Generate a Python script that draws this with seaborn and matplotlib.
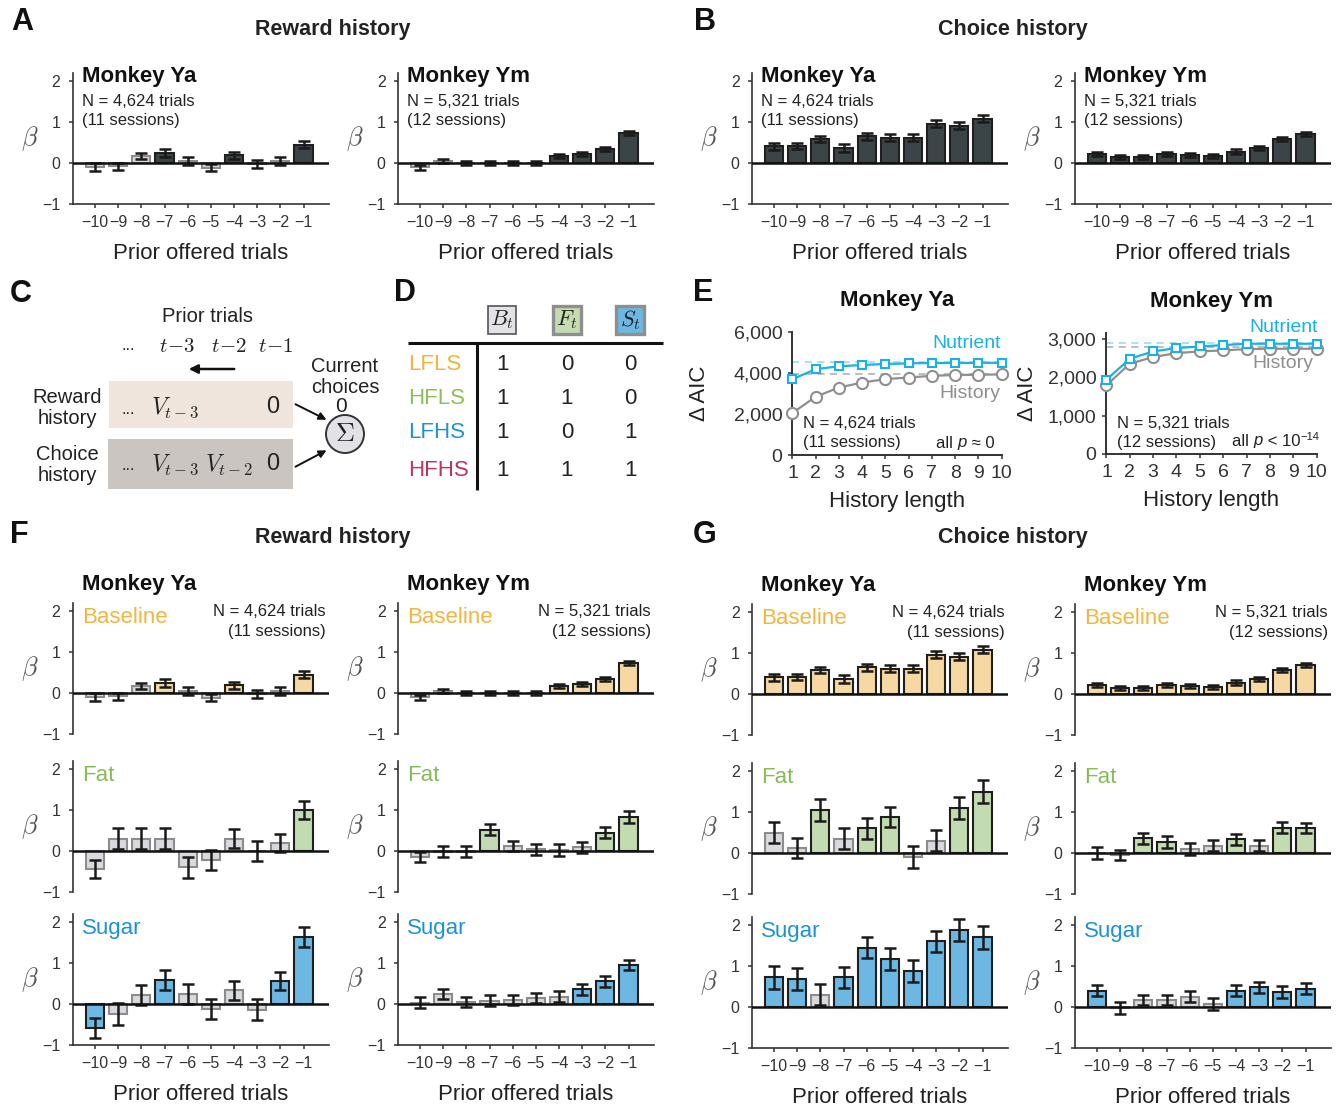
import numpy as np
import pandas as pd
import matplotlib
matplotlib.use("Agg")
import matplotlib.pyplot as plt
import seaborn as sns
from matplotlib.patches import Rectangle, Circle

# ---------------- data ----------------
lags = ["−10", "−9", "−8", "−7", "−6", "−5", "−4", "−3", "−2", "−1"]

# A / F-baseline: reward history
rew_ya_beta = [-0.10, -0.08, 0.17, 0.24, 0.04, -0.11, 0.19, -0.02, 0.05, 0.45]
rew_ya_sem = [0.09, 0.08, 0.08, 0.09, 0.10, 0.09, 0.09, 0.09, 0.09, 0.08]
rew_ya_sig = [0, 0, 0, 1, 0, 0, 1, 0, 0, 1]
rew_ym_beta = [-0.10, 0.04, -0.01, 0.00, -0.01, -0.01, 0.17, 0.21, 0.34, 0.74]
rew_ym_sem = [0.06, 0.05, 0.05, 0.05, 0.05, 0.05, 0.05, 0.05, 0.05, 0.05]
rew_ym_sig = [0, 0, 0, 0, 0, 0, 1, 1, 1, 1]

# B / G-baseline: choice history
cho_ya_beta = [0.41, 0.41, 0.59, 0.37, 0.65, 0.62, 0.62, 0.96, 0.91, 1.08]
cho_ya_sem = [0.09, 0.08, 0.08, 0.09, 0.08, 0.08, 0.08, 0.08, 0.08, 0.08]
cho_ya_sig = [1, 1, 1, 1, 1, 1, 1, 1, 1, 1]
cho_ym_beta = [0.22, 0.14, 0.15, 0.23, 0.20, 0.16, 0.28, 0.36, 0.59, 0.71]
cho_ym_sem = [0.05, 0.05, 0.05, 0.05, 0.05, 0.05, 0.05, 0.05, 0.05, 0.05]
cho_ym_sig = [1, 1, 1, 1, 1, 1, 1, 1, 1, 1]

# F: reward history, fat / sugar
rfat_ya_beta = [-0.44, 0.30, 0.30, 0.30, -0.40, -0.22, 0.30, 0.00, 0.20, 1.00]
rfat_ya_sem = [0.23, 0.26, 0.25, 0.25, 0.25, 0.25, 0.23, 0.25, 0.22, 0.23]
rfat_ya_sig = [0, 0, 0, 0, 0, 0, 0, 0, 0, 1]
rfat_ym_beta = [-0.15, -0.02, -0.02, 0.52, 0.13, 0.04, 0.03, 0.09, 0.45, 0.83]
rfat_ym_sem = [0.12, 0.13, 0.13, 0.13, 0.12, 0.14, 0.14, 0.14, 0.13, 0.14]
rfat_ym_sig = [0, 0, 0, 1, 0, 0, 0, 0, 1, 1]
rsug_ya_beta = [-0.58, -0.25, 0.22, 0.58, 0.25, -0.12, 0.33, -0.14, 0.56, 1.63]
rsug_ya_sem = [0.24, 0.27, 0.24, 0.24, 0.25, 0.24, 0.23, 0.25, 0.23, 0.24]
rsug_ya_sig = [1, 0, 0, 1, 0, 0, 0, 0, 1, 1]
rsug_ym_beta = [0.03, 0.24, 0.05, 0.08, 0.10, 0.15, 0.18, 0.36, 0.55, 0.96]
rsug_ym_sem = [0.13, 0.13, 0.13, 0.13, 0.13, 0.13, 0.13, 0.14, 0.14, 0.12]
rsug_ym_sig = [0, 0, 0, 0, 0, 0, 0, 1, 1, 1]

# G: choice history, fat / sugar
cfat_ya_beta = [0.50, 0.12, 1.05, 0.35, 0.60, 0.88, -0.10, 0.30, 1.10, 1.50]
cfat_ya_sem = [0.25, 0.25, 0.27, 0.25, 0.25, 0.25, 0.26, 0.25, 0.27, 0.27]
cfat_ya_sig = [0, 0, 1, 0, 1, 1, 0, 0, 1, 1]
cfat_ym_beta = [0.00, -0.05, 0.36, 0.27, 0.10, 0.18, 0.33, 0.18, 0.62, 0.61]
cfat_ym_sem = [0.15, 0.13, 0.13, 0.14, 0.14, 0.14, 0.13, 0.14, 0.14, 0.13]
cfat_ym_sig = [0, 0, 1, 1, 0, 0, 1, 0, 1, 1]
csug_ya_beta = [0.72, 0.68, 0.30, 0.72, 1.45, 1.18, 0.88, 1.60, 1.88, 1.70]
csug_ya_sem = [0.27, 0.27, 0.25, 0.25, 0.26, 0.27, 0.26, 0.26, 0.26, 0.28]
csug_ya_sig = [1, 1, 0, 1, 1, 1, 1, 1, 1, 1]
csug_ym_beta = [0.40, -0.03, 0.17, 0.17, 0.25, 0.07, 0.40, 0.48, 0.37, 0.45]
csug_ym_sem = [0.14, 0.14, 0.13, 0.13, 0.14, 0.14, 0.13, 0.14, 0.14, 0.14]
csug_ym_sig = [1, 0, 0, 0, 0, 0, 1, 1, 1, 1]

# E: delta AIC vs history length
hist_len = [1, 2, 3, 4, 5, 6, 7, 8, 9, 10]
aic_ya_nutrient = [3700, 4190, 4325, 4390, 4440, 4470, 4490, 4490, 4495, 4500]
aic_ya_history = [2050, 2845, 3290, 3535, 3700, 3780, 3865, 3900, 3915, 3930]
aic_ya_ref = [4520, 3930]
aic_ym_nutrient = [1936, 2480, 2670, 2757, 2800, 2835, 2870, 2870, 2870, 2870]
aic_ym_history = [1790, 2350, 2524, 2627, 2670, 2697, 2731, 2740, 2740, 2740]
aic_ym_ref = [2880, 2790]
aic_ya_ticks = [0, 2000, 4000, 6000]
aic_ym_ticks = [0, 1000, 2000, 3000]

# D: table
d_rows = ["LFLS", "HFLS", "LFHS", "HFHS"]
d_cols = [r"$B_t$", r"$F_t$", r"$S_t$"]
d_vals = [[1, 0, 0], [1, 1, 0], [1, 0, 1], [1, 1, 1]]

# ---------------- style ----------------
sns.set_theme(style="ticks")
plt.rcParams["font.family"] = ["Liberation Sans", "DejaVu Sans"]
plt.rcParams["mathtext.fontset"] = "cm"
plt.rcParams["axes.unicode_minus"] = True

TXT = "#222222"
GRAY_BAR = "#d9dadd"
DARK_BAR = "#3b4446"
BASE_C = "#f5d8a2"
FAT_C = "#c3dbb0"
SUG_C = "#6db8e3"
BASE_T = "#f0b640"
FAT_T = "#88bb58"
SUG_T = "#1d93d3"
NUT_C = "#19b2e8"
HIS_C = "#8f8f8f"

W, H = 1344, 1112
fig = plt.figure(figsize=(W / 100, H / 100), dpi=100)


def px_axes(x0, y0, x1, y1):
    ax = fig.add_axes([x0 / W, 1 - y1 / H, (x1 - x0) / W, (y1 - y0) / H])
    ax.set_facecolor("none")
    return ax


UNIT = 41.0
AX_W = 256


def bar_axes(x0, zero_y, beta, sem, sig, color, bottom_axis=True):
    ax = px_axes(x0, zero_y - 2.2 * UNIT, x0 + AX_W, zero_y + UNIT)
    df = pd.DataFrame({"lag": lags, "beta": beta})
    cols = [color if s else GRAY_BAR for s in sig]
    sns.barplot(data=df, x="lag", y="beta", hue="lag", order=lags, hue_order=lags,
                palette=cols, legend=False, saturation=1, width=0.78, errorbar=None,
                linewidth=1.5, ax=ax)
    for p, s in zip(ax.patches, sig):
        p.set_edgecolor("#1f1f1f" if s else "#8c8c8c")
        p.set_zorder(2)
    ax.errorbar(np.arange(len(lags)), beta, yerr=sem, fmt="none", ecolor="#1a1a1a",
                elinewidth=1.8, capsize=4.5, capthick=1.8, zorder=4)
    ax.axhline(0, color="#111111", lw=1.8, zorder=5)
    ax.set_xlim(-0.95, 10.1)
    ax.set_ylim(-1, 2.2)
    ax.set_yticks([-1, 0, 1, 2])
    ax.set_yticklabels(["−1", "0", "1", "2"])
    ax.set_ylabel("")
    ax.set_xlabel("")
    for sp in ["top", "right"]:
        ax.spines[sp].set_visible(False)
    ax.spines["left"].set_color("#333333")
    ax.spines["left"].set_linewidth(1.2)
    ax.tick_params(axis="y", length=3, width=1.1, pad=6, labelsize=11.5, colors="#333333")
    if bottom_axis:
        ax.spines["bottom"].set_color("#333333")
        ax.spines["bottom"].set_linewidth(1.2)
        ax.tick_params(axis="x", length=3, width=1.1, pad=5, labelsize=11.5, colors="#333333")
        ax.set_xlabel("Prior offered trials", fontsize=16, color=TXT, labelpad=9)
    else:
        ax.spines["bottom"].set_visible(False)
        ax.tick_params(axis="x", bottom=False, labelbottom=False)
    ax.text(-0.168, 0.5, r"$\beta$", transform=ax.transAxes, fontsize=19,
            color="#555555", ha="center", va="center")
    return ax


def info_top(ax, title, n_text, s_text):
    ax.text(0.035, 0.968, title, transform=ax.transAxes, fontsize=16, fontweight="bold",
            color="#111111", ha="left", va="center")
    ax.text(0.035, 0.785, n_text, transform=ax.transAxes, fontsize=12, color=TXT,
            ha="left", va="center")
    ax.text(0.035, 0.633, s_text, transform=ax.transAxes, fontsize=12, color=TXT,
            ha="left", va="center")


# ---- A and B ----
a_ya = bar_axes(73, 163, rew_ya_beta, rew_ya_sem, rew_ya_sig, DARK_BAR)
info_top(a_ya, "Monkey Ya", "N = 4,624 trials", "(11 sessions)")
a_ym = bar_axes(398, 163, rew_ym_beta, rew_ym_sem, rew_ym_sig, DARK_BAR)
info_top(a_ym, "Monkey Ym", "N = 5,321 trials", "(12 sessions)")
b_ya = bar_axes(752, 163, cho_ya_beta, cho_ya_sem, cho_ya_sig, DARK_BAR)
info_top(b_ya, "Monkey Ya", "N = 4,624 trials", "(11 sessions)")
b_ym = bar_axes(1075, 163, cho_ym_beta, cho_ym_sem, cho_ym_sig, DARK_BAR)
info_top(b_ym, "Monkey Ym", "N = 5,321 trials", "(12 sessions)")

# ---- F and G ----
def fg_column(x0, zeros, rows, title, n_text, s_text):
    labels = [("Baseline", BASE_T, BASE_C), ("Fat", FAT_T, FAT_C), ("Sugar", SUG_T, SUG_C)]
    axs = []
    for i, ((lab, tcol, bcol), z, (b, s, g)) in enumerate(zip(labels, zeros, rows)):
        ax = bar_axes(x0, z, b, s, g, bcol, bottom_axis=(i == 2))
        ax.text(0.035, 0.89, lab, transform=ax.transAxes, fontsize=16, color=tcol,
                ha="left", va="center")
        axs.append(ax)
    axs[0].text(0.035, 1.136, title, transform=axs[0].transAxes, fontsize=16,
                fontweight="bold", color="#111111", ha="left", va="center")
    axs[0].text(0.988, 0.937, n_text, transform=axs[0].transAxes, fontsize=12,
                color=TXT, ha="right", va="center")
    axs[0].text(0.988, 0.785, s_text, transform=axs[0].transAxes, fontsize=12,
                color=TXT, ha="right", va="center")
    return axs


fg_column(73, [693, 851, 1004],
          [(rew_ya_beta, rew_ya_sem, rew_ya_sig), (rfat_ya_beta, rfat_ya_sem, rfat_ya_sig),
           (rsug_ya_beta, rsug_ya_sem, rsug_ya_sig)],
          "Monkey Ya", "N = 4,624 trials", "(11 sessions)")
fg_column(398, [693, 851, 1004],
          [(rew_ym_beta, rew_ym_sem, rew_ym_sig), (rfat_ym_beta, rfat_ym_sem, rfat_ym_sig),
           (rsug_ym_beta, rsug_ym_sem, rsug_ym_sig)],
          "Monkey Ym", "N = 5,321 trials", "(12 sessions)")
fg_column(752, [694, 853, 1007],
          [(cho_ya_beta, cho_ya_sem, cho_ya_sig), (cfat_ya_beta, cfat_ya_sem, cfat_ya_sig),
           (csug_ya_beta, csug_ya_sem, csug_ya_sig)],
          "Monkey Ya", "N = 4,624 trials", "(11 sessions)")
fg_column(1075, [694, 853, 1007],
          [(cho_ym_beta, cho_ym_sem, cho_ym_sig), (cfat_ym_beta, cfat_ym_sem, cfat_ym_sig),
           (csug_ym_beta, csug_ym_sem, csug_ym_sig)],
          "Monkey Ym", "N = 5,321 trials", "(12 sessions)")

# ---- E ----
def aic_axes(x0, x1, y0, y1, nut, his, ref, ticks, ytop, title, ylab_x):
    ax = px_axes(x0, y0, x1, y1)
    ax.axhline(ref[0], color="#a3def4", ls=(0, (4, 3)), lw=1.3, zorder=1)
    ax.axhline(ref[1], color="#b9b9b9", ls=(0, (4, 3)), lw=1.3, zorder=1)
    sns.lineplot(x=hist_len, y=his, ax=ax, color=HIS_C, lw=1.6, marker="o",
                 markersize=8, markerfacecolor="white", markeredgecolor=HIS_C,
                 markeredgewidth=1.5, clip_on=False, zorder=3)
    sns.lineplot(x=hist_len, y=nut, ax=ax, color=NUT_C, lw=1.6, marker="s",
                 markersize=6, markerfacecolor="white", markeredgecolor=NUT_C,
                 markeredgewidth=1.5, clip_on=False, zorder=4)
    ax.set_xlim(0.98, 10.02)
    ax.set_ylim(0, ytop)
    ax.set_xticks(hist_len)
    ax.set_yticks(ticks)
    ax.set_yticklabels([f"{t:,}" for t in ticks])
    for sp in ["top", "right"]:
        ax.spines[sp].set_visible(False)
    for sp in ["left", "bottom"]:
        ax.spines[sp].set_color("#333333")
        ax.spines[sp].set_linewidth(1.4)
    ax.tick_params(length=3, width=1.1, pad=4, labelsize=14, colors="#333333")
    ax.set_xlabel("History length", fontsize=16, color=TXT, labelpad=7)
    ax.set_ylabel("Δ AIC", fontsize=16, color=TXT)
    ax.yaxis.set_label_coords(ylab_x, 0.5)
    ax.set_title(title, fontsize=16, fontweight="bold", color="#111111", pad=19)
    return ax


e_ya = aic_axes(792, 1002, 332, 455, aic_ya_nutrient, aic_ya_history, aic_ya_ref,
                aic_ya_ticks, 6000, "Monkey Ya", -0.39)
e_ym = aic_axes(1106, 1317, 333, 454, aic_ym_nutrient, aic_ym_history, aic_ym_ref,
                aic_ym_ticks, 3150, "Monkey Ym", -0.32)

# ---------------- overlay: letters, titles, C, D, E text ----------------
ov = fig.add_axes([0, 0, 1, 1])
ov.set_xlim(0, W)
ov.set_ylim(H, 0)
ov.axis("off")

for letter, x, y in [("A", 22, 22), ("B", 705, 22), ("C", 21, 294), ("D", 405, 293),
                     ("E", 703, 293), ("F", 19, 535), ("G", 705, 535)]:
    ov.text(x, y, letter, fontsize=22, fontweight="bold", color="#111111",
            ha="center", va="center")
for t, x, y in [("Reward history", 333, 30), ("Choice history", 1013, 30),
                ("Reward history", 333, 538), ("Choice history", 1013, 538)]:
    ov.text(x, y, t, fontsize=15.5, fontweight="bold", color="#222222",
            ha="center", va="center")

# Panel C
ov.text(207, 317, "Prior trials", fontsize=14.5, color=TXT, ha="center", va="center")
ov.text(128, 346, "...", fontsize=12, color=TXT, ha="center", va="center")
for lab, x in [(r"$t\!-\!3$", 177), (r"$t\!-\!2$", 229), (r"$t\!-\!1$", 276)]:
    ov.text(x, 347, lab, fontsize=15, color=TXT, ha="center", va="center")
ov.annotate("", xy=(186, 369), xytext=(237, 369),
            arrowprops=dict(arrowstyle="-|>", color="#111111", lw=1.8, mutation_scale=13))
ov.add_patch(Rectangle((109, 381), 184, 47, facecolor="#efe5dc", edgecolor="none"))
ov.add_patch(Rectangle((108, 439), 185, 50, facecolor="#cbc5c2", edgecolor="none"))
ov.text(67, 408, "Reward\nhistory", fontsize=14.5, color=TXT, ha="center", va="center",
        linespacing=1.15)
ov.text(67, 465, "Choice\nhistory", fontsize=14.5, color=TXT, ha="center", va="center",
        linespacing=1.15)
ov.text(128, 409, "...", fontsize=12, color=TXT, ha="center", va="center")
ov.text(175, 408, r"$V_{t-3}$", fontsize=17, color=TXT, ha="center", va="center")
ov.text(273, 407, "0", fontsize=17, color=TXT, ha="center", va="center")
ov.text(128, 466, "...", fontsize=12, color=TXT, ha="center", va="center")
ov.text(175, 465, r"$V_{t-3}$", fontsize=17, color=TXT, ha="center", va="center")
ov.text(229, 465, r"$V_{t-2}$", fontsize=17, color=TXT, ha="center", va="center")
ov.text(273, 464, "0", fontsize=17, color=TXT, ha="center", va="center")
ov.text(345, 377, "Current\nchoices", fontsize=14.5, color=TXT, ha="center", va="center",
        linespacing=1.1)
ov.text(341, 406, "0", fontsize=15, color=TXT, ha="center", va="center")
ov.add_patch(Circle((345, 434), 19, facecolor="#e2e2e6", edgecolor="#333333", lw=1.4,
                    zorder=3))
ov.text(345, 434, r"$\Sigma$", fontsize=19, color=TXT, ha="center", va="center", zorder=4)
ov.annotate("", xy=(329, 421), xytext=(293, 403),
            arrowprops=dict(arrowstyle="-|>", color="#111111", lw=1.4, mutation_scale=11))
ov.annotate("", xy=(329, 449), xytext=(293, 468),
            arrowprops=dict(arrowstyle="-|>", color="#111111", lw=1.4, mutation_scale=11))

# Panel D
col_x = [502, 567, 630]
box_fc = ["#e3e3e7", "#c5dcb0", "#6cb8e3"]
box_ec = ["#555555", "#8f8f8f", "#8f8f8f"]
box_lw = [1.2, 2.4, 2.4]
for x, lab, fc, ec, lw in zip(col_x, d_cols, box_fc, box_ec, box_lw):
    ov.add_patch(Rectangle((x - 14, 306), 28, 28, facecolor=fc, edgecolor=ec, lw=lw))
    ov.text(x, 320, lab, fontsize=16, color=TXT, ha="center", va="center")
ov.plot([408, 663], [343, 343], color="#111111", lw=2.2, solid_capstyle="butt")
ov.plot([477, 477], [343, 490], color="#111111", lw=2.2, solid_capstyle="butt")
row_y = [364, 398, 433, 471]
row_c = ["#f0b43c", "#8cbf5a", "#1f93d2", "#b8365a"]
for lab, y, c, vals in zip(d_rows, row_y, row_c, d_vals):
    ov.text(408, y, lab, fontsize=16, color=c, ha="left", va="center")
    for x, v in zip(col_x, vals):
        ov.text(x, y, str(v), fontsize=16, color=TXT, ha="center", va="center")

# Panel E annotations
ov.text(1001, 343, "Nutrient", fontsize=14, color=NUT_C, ha="right", va="center")
ov.text(1000, 394, "History", fontsize=14, color=HIS_C, ha="right", va="center")
ov.text(803, 424, "N = 4,624 trials", fontsize=12, color=TXT, ha="left", va="center")
ov.text(803, 443, "(11 sessions)", fontsize=12, color=TXT, ha="left", va="center")
t1 = ov.text(936, 443, "all ", fontsize=12, color=TXT, ha="left", va="center")
t2 = ov.annotate("p", xy=(1, 0), xycoords=t1, fontsize=12, color=TXT, style="italic",
                 ha="left", va="bottom")
ov.annotate(" ≈ 0", xy=(1, 0), xycoords=t2, fontsize=12, color=TXT, ha="left", va="bottom")

ov.text(1318, 327, "Nutrient", fontsize=14, color=NUT_C, ha="right", va="center")
ov.text(1313, 364, "History", fontsize=14, color=HIS_C, ha="right", va="center")
ov.text(1117, 423, "N = 5,321 trials", fontsize=12, color=TXT, ha="left", va="center")
ov.text(1117, 443, "(12 sessions)", fontsize=12, color=TXT, ha="left", va="center")
s1 = ov.text(1232, 441, "all ", fontsize=12, color=TXT, ha="left", va="center")
s2 = ov.annotate("p", xy=(1, 0), xycoords=s1, fontsize=12, color=TXT, style="italic",
                 ha="left", va="bottom")
s3 = ov.annotate(" < 10", xy=(1, 0), xycoords=s2, fontsize=12, color=TXT,
                 ha="left", va="bottom")
ov.annotate("−14", xy=(1, 0.78), xycoords=s3, fontsize=8, color=TXT, ha="left",
            va="center")

fig.savefig("out.png", dpi=100)
